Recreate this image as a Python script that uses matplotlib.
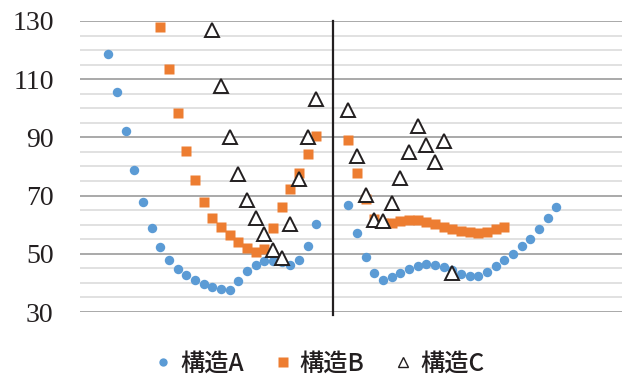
import numpy as np
import matplotlib
matplotlib.use("Agg")
import matplotlib.pyplot as plt
from matplotlib.lines import Line2D

plt.rcParams["font.family"] = "serif"
plt.rcParams["font.serif"] = ["Liberation Serif", "DejaVu Serif"]

# values (y), two sweeps per structure
a_left = [118.7, 105.6, 92.2, 78.7, 67.8, 59.0, 52.2, 47.8, 44.9, 42.6, 41.0, 39.7, 38.6,
          37.8, 37.5, 40.8, 44.2, 46.3, 47.4, 47.6, 47.1, 46.2, 47.9, 52.8, 60.3]
a_right = [66.7, 57.3, 49.0, 43.3, 40.9, 41.9, 43.5, 44.9, 45.8, 46.4, 46.2, 45.6, 44.4,
           43.0, 42.3, 42.5, 43.8, 45.8, 47.8, 50.0, 52.7, 55.2, 58.4, 62.4, 66.2]
b_left = [127.8, 113.4, 98.3, 85.3, 75.3, 67.7, 62.4, 59.1, 56.4, 54.1, 51.9, 50.6, 51.6,
          59.0, 66.2, 72.4, 77.6, 84.2, 90.4]
b_right = [89.0, 77.6, 68.8, 61.9, 60.5, 60.7, 61.2, 61.6, 61.6, 61.0, 60.2, 59.3, 58.5,
           57.8, 57.4, 57.3, 57.6, 58.4, 59.3]
c_left = [126.9, 107.7, 90.2, 77.4, 68.5, 62.3, 56.7, 51.3, 48.5, 60.1, 75.6, 90.2, 103.2]
c_right = [99.4, 83.7, 70.2, 61.6, 61.4, 67.6, 76.0, 85.0, 93.9, 87.3, 81.4, 88.9, 43.4]

labels = ["構造A", "構造B", "構造C"]
yticks = [30, 50, 70, 90, 110, 130]

# x positions (sample index); right sweep starts after the divider
left_start = {"A": 0, "B": 6, "C": 12}
right_start = 27.7
divider = 25.93

def xs(start, n):
    return [start + i for i in range(n)]

ax_x = xs(left_start["A"], len(a_left)) + xs(right_start, len(a_right))
bx_x = xs(left_start["B"], len(b_left)) + xs(right_start, len(b_right))
cx_x = xs(left_start["C"], len(c_left)) + xs(right_start, len(c_right))

blue = "#5B9BD5"
orange = "#ED7D31"
dark = "#231F20"

fig = plt.figure(figsize=(6.23, 3.76), dpi=100)
ax = fig.add_axes([80/623, 1-312/376, 542/623, 291/376])

ax.plot(ax_x, a_left + a_right, "o", color=blue, ms=6.8, mec="none", zorder=3)
ax.plot(bx_x, b_left + b_right, "s", color=orange, ms=7.6, mec="none", zorder=4)
ax.plot(cx_x, c_left + c_right, "^", mfc="white", mec=dark, mew=1.4, ms=10, zorder=5)

ax.plot([divider, divider], [29.0, 130], color=dark, lw=1.6, zorder=6, clip_on=False)

ax.set_xlim(-3.27, 59.27)
ax.set_ylim(30, 130)
ax.set_xticks([])
ax.set_yticks(yticks)
ax.set_yticklabels([str(v) for v in yticks], fontfamily="Liberation Serif", fontsize=20,
                   color=dark)
ax.set_yticks(np.arange(35, 130, 5), minor=True)
ax.grid(which="major", axis="y", color="#A9A9A9", lw=1.4, zorder=0)
ax.grid(which="minor", axis="y", color="#DEDEDE", lw=1.3, zorder=0)
ax.tick_params(axis="y", which="both", length=0, pad=19)
for s in ax.spines.values():
    s.set_visible(False)

handles = [
    Line2D([], [], ls="none", marker="o", color=blue, mec="none", ms=6),
    Line2D([], [], ls="none", marker="s", color=orange, mec="none", ms=7.5),
    Line2D([], [], ls="none", marker="^", mfc="white", mec=dark, mew=1.0, ms=7),
]
leg = fig.legend(handles, labels, loc="center", bbox_to_anchor=(320/623, 1-364/376),
                 ncol=3, frameon=False, handlelength=0.6, handletextpad=0.4,
                 columnspacing=1.3,
                 prop={"family": ["Noto Sans CJK JP", "DejaVu Sans"], "size": 17.5,
                       "weight": "medium"})
for t in leg.get_texts():
    t.set_color(dark)

fig.savefig("out.png", dpi=100)
